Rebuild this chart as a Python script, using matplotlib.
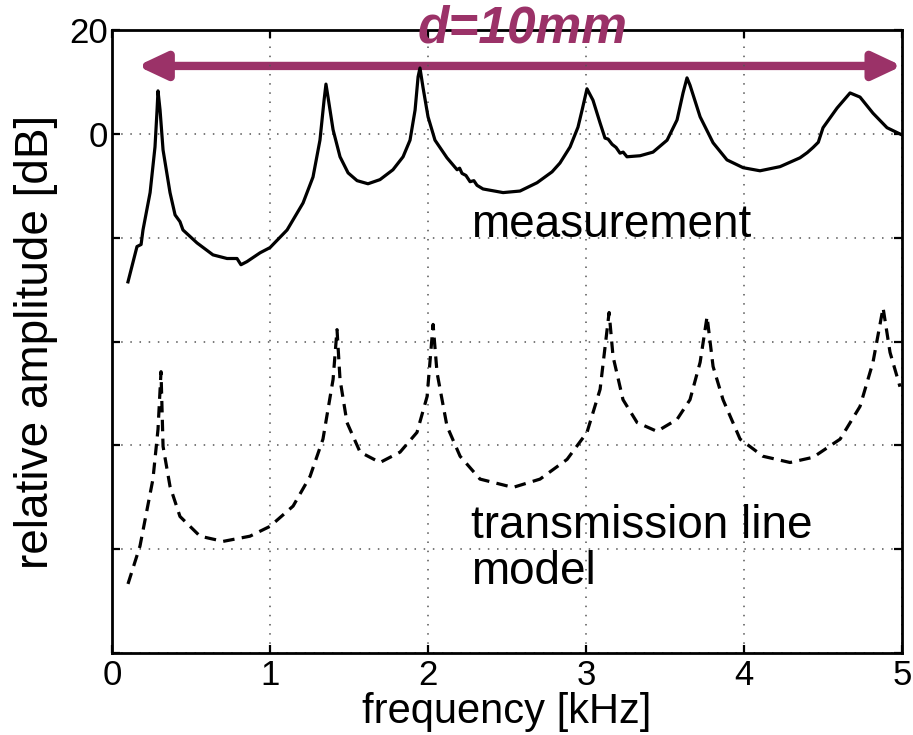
import matplotlib.pyplot as plt
from matplotlib.patches import FancyArrowPatch

plt.rcParams['font.family'] = ['Liberation Sans', 'DejaVu Sans']

# Measured response (frequency in kHz, amplitude in dB)
meas_f = [0.101, 0.158, 0.184, 0.196, 0.241, 0.272, 0.285, 0.291, 0.304, 0.323,
          0.367, 0.399, 0.430, 0.449, 0.538, 0.639, 0.728, 0.791, 0.816, 0.854,
          0.937, 1.000, 1.019, 1.108, 1.209, 1.272, 1.316, 1.342, 1.354, 1.367,
          1.399, 1.443, 1.494, 1.551, 1.620, 1.696, 1.778, 1.842, 1.886, 1.918,
          1.937, 1.949, 1.968, 2.000, 2.044, 2.120, 2.184, 2.200, 2.215, 2.240,
          2.266, 2.290, 2.310, 2.348, 2.475, 2.582, 2.690, 2.785, 2.835, 2.899,
          2.949, 2.975, 3.006, 3.044, 3.089, 3.120, 3.140, 3.165, 3.190, 3.215,
          3.235, 3.259, 3.342, 3.424, 3.513, 3.576, 3.614, 3.639, 3.658, 3.722,
          3.804, 3.892, 3.994, 4.101, 4.228, 4.354, 4.400, 4.437, 4.470, 4.500,
          4.589, 4.671, 4.734, 4.816, 4.905, 5.000]
meas_db = [-28.5, -21.7, -21.3, -18.5, -11.3, -2.5, 4.6, 8.3, 4.6, -3.1,
           -11.3, -15.6, -16.9, -18.5, -21.0, -23.3, -24.0, -24.0, -25.2, -24.6,
           -22.9, -21.9, -21.3, -18.5, -13.3, -8.3, -1.2, 6.5, 9.6, 7.1,
           0.8, -4.4, -7.5, -9.0, -9.6, -8.8, -6.9, -4.4, -1.2, 4.6,
           11.0, 12.7, 9.0, 3.3, -1.2, -4.6, -6.9, -6.6, -7.6, -8.0,
           -9.2, -9.0, -9.9, -10.6, -11.3, -11.0, -9.4, -7.3, -5.6, -2.5,
           1.3, 4.6, 8.7, 6.5, 2.1, -0.8, -1.0, -2.0, -2.6, -3.7,
           -3.5, -4.4, -4.2, -3.5, -1.2, 2.7, 7.9, 10.8, 9.4, 3.3,
           -1.7, -5.0, -6.5, -7.1, -6.3, -4.6, -3.6, -2.6, -1.6, 1.2,
           5.0, 7.9, 7.1, 4.0, 1.2, -0.2]

# Transmission line model (frequency in kHz, amplitude in dB)
model_f = [0.101, 0.177, 0.259, 0.291, 0.310, 0.323, 0.367, 0.430, 0.557, 0.703,
           0.873, 1.000, 1.146, 1.253, 1.335, 1.399, 1.424, 1.443, 1.487, 1.570,
           1.696, 1.823, 1.930, 1.994, 2.032, 2.057, 2.120, 2.203, 2.329, 2.538,
           2.709, 2.880, 3.006, 3.089, 3.146, 3.171, 3.234, 3.323, 3.449, 3.576,
           3.658, 3.722, 3.766, 3.804, 3.867, 3.975, 4.120, 4.291, 4.437, 4.608,
           4.734, 4.816, 4.880, 4.924, 4.987]
model_db = [-86.7, -79.4, -66.5, -56.9, -45.8, -60.2, -67.9, -73.7, -77.5, -78.5,
            -77.5, -75.6, -71.7, -66.0, -58.8, -47.3, -37.7, -47.3, -55.6, -61.3,
            -63.3, -61.3, -57.5, -50.6, -36.7, -46.0, -56.3, -62.1, -66.5, -68.1,
            -66.5, -62.7, -57.5, -49.2, -34.4, -42.9, -51.2, -55.6, -57.3, -55.0,
            -51.2, -44.0, -35.2, -44.8, -51.2, -58.8, -62.1, -63.3, -62.3, -58.8,
            -52.5, -44.0, -33.5, -42.1, -48.7]

x_ticks = [0, 1, 2, 3, 4, 5]
y_ticks = [-100, -80, -60, -40, -20, 0, 20]
y_tick_labels = ['', '', '', '', '', '0', '20']

ACCENT = '#9b3268'

fig = plt.figure(figsize=(9.13, 7.35), dpi=100)
ax = fig.add_axes([0.1227, 0.1116, 0.8653, 0.8474])

ax.plot(meas_f, meas_db, color='black', lw=2.3)
ax.plot(model_f, model_db, color='black', lw=2.3, linestyle=(0, (3.6, 2.3)))

ax.set_xlim(0, 5)
ax.set_ylim(-100, 20)
ax.set_xticks(x_ticks)
ax.set_yticks(y_ticks)
ax.set_yticklabels(y_tick_labels)
ax.grid(True, linestyle=(0, (1, 5)), color='#555555', lw=1.1)
ax.tick_params(direction='in', length=6, width=1.6, labelsize=25,
               top=True, right=True)
ax.tick_params(axis='x', pad=4)
ax.tick_params(axis='y', pad=3)
for s in ax.spines.values():
    s.set_linewidth(2.0)

ax.set_xlabel('frequency [kHz]', fontsize=30, labelpad=0)
ax.set_ylabel('relative amplitude [dB]', fontsize=33, labelpad=8)

ax.text(2.27, -17.5, 'measurement', fontsize=33, va='center', ha='left')
ax.text(2.27, -80, 'transmission line\nmodel', fontsize=33, va='center',
        ha='left', linespacing=1.05)

# dimension arrow
arr = FancyArrowPatch((0.16, 13.1), (5.0, 13.1),
                      arrowstyle='<|-|>,head_length=17,head_width=8',
                      mutation_scale=1, lw=6, color=ACCENT,
                      shrinkA=0, shrinkB=0, clip_on=False)
ax.add_patch(arr)
ax.text(2.6, 20.3, 'd=10mm', fontsize=37, fontweight='bold', fontstyle='italic',
        color=ACCENT, ha='center', va='center')

fig.savefig('out.png', dpi=100)
